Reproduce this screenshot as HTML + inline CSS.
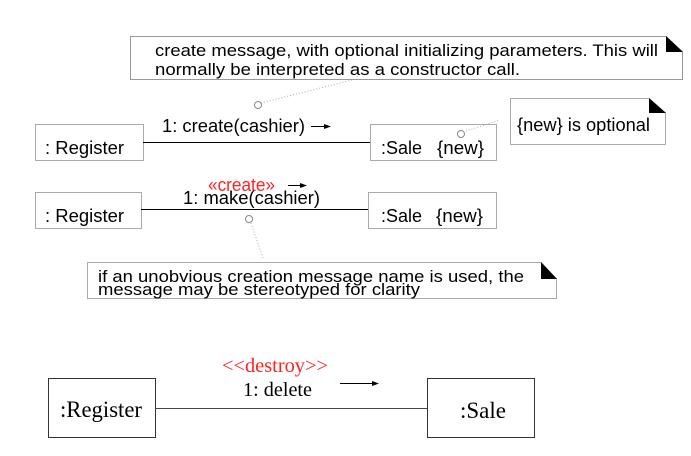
<!DOCTYPE html>
<html><head><meta charset="utf-8"><style>
html,body{margin:0;padding:0;background:#fff;width:691px;height:456px;overflow:hidden}
</style></head><body>
<svg width="691" height="456" viewBox="0 0 691 456" xmlns="http://www.w3.org/2000/svg" font-family="Liberation Sans, Arial, sans-serif">
<!-- note 1 -->
<path d="M130.5 36.5 H666 L682.5 52 V79.5 H130.5 Z" fill="#fff" stroke="#999" stroke-width="1"/>
<path d="M666 36 L666 52 L683 52 Z" fill="#000"/>
<text x="155" y="56" font-size="17" textLength="503" lengthAdjust="spacingAndGlyphs">create message, with optional initializing parameters. This will</text>
<text x="155" y="75" font-size="17" textLength="365" lengthAdjust="spacingAndGlyphs">normally be interpreted as a constructor call.</text>
<line x1="261" y1="103" x2="352" y2="80" stroke="#aaa" stroke-dasharray="1,2"/>
<circle cx="258" cy="105" r="3.5" fill="#fff" stroke="#888"/>
<!-- row 1 -->
<rect x="35.5" y="124.5" width="108" height="36" fill="#fff" stroke="#aaa"/>
<text x="45" y="154" font-size="18" textLength="79" lengthAdjust="spacingAndGlyphs">: Register</text>
<line x1="143" y1="142.5" x2="370" y2="142.5" stroke="#000"/>
<text x="162" y="132" font-size="18" textLength="143" lengthAdjust="spacingAndGlyphs">1:  create(cashier)</text>
<line x1="311" y1="126.5" x2="326" y2="126.5" stroke="#000"/>
<path d="M324 124 L331 126.5 L324 129Z" fill="#000"/>
<rect x="370.5" y="124.5" width="126" height="36" fill="#fff" stroke="#aaa"/>
<text x="381" y="154" font-size="18" textLength="41" lengthAdjust="spacingAndGlyphs">:Sale</text>
<text x="437" y="154" font-size="18" textLength="47" lengthAdjust="spacingAndGlyphs">{new}</text>
<line x1="463" y1="132" x2="500" y2="120" stroke="#aaa" stroke-dasharray="1,2"/>
<circle cx="461" cy="134" r="3.5" fill="#fff" stroke="#888"/>
<!-- note 2 -->
<path d="M510.5 98.5 H649 L665.5 113 V144.5 H510.5 Z" fill="#fff" stroke="#aaa"/>
<path d="M649 98 L649 113 L666 113 Z" fill="#000"/>
<text x="517" y="131" font-size="18" textLength="133" lengthAdjust="spacingAndGlyphs">{new} is optional</text>
<!-- row 2 -->
<text x="208" y="191" font-size="18" fill="#f22" textLength="67" lengthAdjust="spacingAndGlyphs">«create»</text>
<line x1="288" y1="185.5" x2="302" y2="185.5" stroke="#000"/>
<path d="M300 183 L307 185.5 L300 188Z" fill="#000"/>
<text x="183" y="204" font-size="18" textLength="137" lengthAdjust="spacingAndGlyphs">1:  make(cashier)</text>
<rect x="35.5" y="192.5" width="106" height="36" fill="#fff" stroke="#aaa"/>
<text x="45" y="222" font-size="18" textLength="79" lengthAdjust="spacingAndGlyphs">: Register</text>
<line x1="141" y1="209.5" x2="368" y2="209.5" stroke="#000"/>
<rect x="368.5" y="192.5" width="128" height="36" fill="#fff" stroke="#aaa"/>
<text x="381" y="222" font-size="18" textLength="41" lengthAdjust="spacingAndGlyphs">:Sale</text>
<text x="436" y="222" font-size="18" textLength="47" lengthAdjust="spacingAndGlyphs">{new}</text>
<circle cx="249" cy="219" r="3.5" fill="#fff" stroke="#888"/>
<line x1="251" y1="223" x2="263" y2="258" stroke="#aaa" stroke-dasharray="1,2"/>
<!-- note 3 -->
<path d="M87.5 262.5 H541 L556.5 279 V298.5 H87.5 Z" fill="#fff" stroke="#aaa"/>
<path d="M541 262 L541 279 L557 279 Z" fill="#000"/>
<text x="98" y="282" font-size="17" textLength="426" lengthAdjust="spacingAndGlyphs">if an unobvious creation message name is used, the</text>
<text x="98" y="295" font-size="17" textLength="322" lengthAdjust="spacingAndGlyphs">message may be stereotyped for clarity</text>
<!-- bottom -->
<text x="222" y="372" font-size="20" fill="#f22" font-family="Liberation Serif, serif" textLength="106" lengthAdjust="spacingAndGlyphs">&lt;&lt;destroy&gt;&gt;</text>
<text x="243" y="396" font-size="20" font-family="Liberation Serif, serif" textLength="69" lengthAdjust="spacingAndGlyphs">1: delete</text>
<line x1="340" y1="383.5" x2="373" y2="383.5" stroke="#000"/>
<path d="M372 381 L379 383.5 L372 386Z" fill="#000"/>
<rect x="48.5" y="378.5" width="107" height="59" fill="#fff" stroke="#333"/>
<text x="60" y="417" font-size="23" font-family="Liberation Serif, serif" textLength="82" lengthAdjust="spacingAndGlyphs">:Register</text>
<line x1="155" y1="408.5" x2="428" y2="408.5" stroke="#444"/>
<rect x="427.5" y="378.5" width="107" height="59" fill="#fff" stroke="#333"/>
<text x="460" y="418" font-size="23" font-family="Liberation Serif, serif" textLength="46" lengthAdjust="spacingAndGlyphs">:Sale</text>
</svg>
</body></html>
